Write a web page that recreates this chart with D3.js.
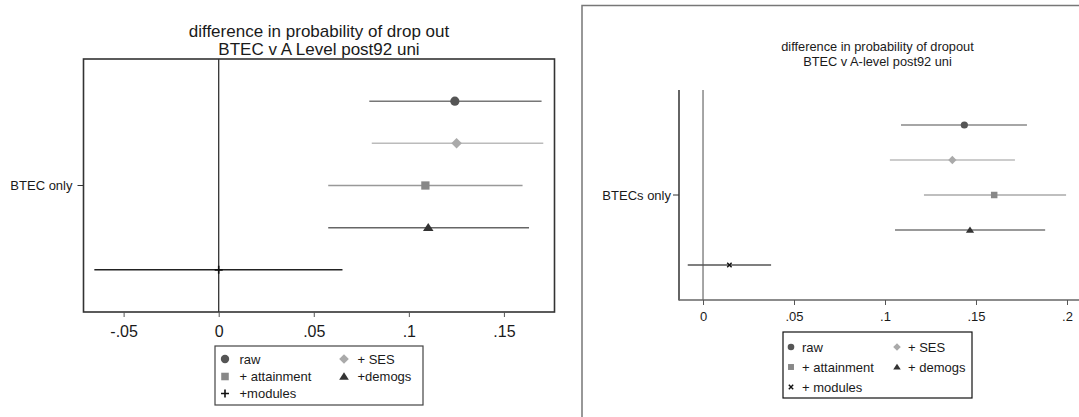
<!DOCTYPE html>
<html>
<head>
<meta charset="utf-8">
<script src="https://cdn.jsdelivr.net/npm/d3@7"></script>
<style>
  html, body { margin: 0; padding: 0; background: #fff; }
  svg { display: block; font-family: "Liberation Sans", Arial, sans-serif; }
</style>
</head>
<body>
<svg id="chart" width="1079" height="417"></svg>
<script>
// ---------- data ----------
const models = ["raw", "ses", "attainment", "demogs", "modules"];
const leftLegendLabels = ["raw", "+ SES", "+ attainment", "+demogs", "+modules"];
const rightLegendLabels = ["raw", "+ SES", "+ attainment", "+ demogs", "+ modules"];

const leftEst = [0.1242, 0.1251, 0.1087, 0.1102, 0.0];
const leftLo  = [0.0792, 0.0805, 0.0576, 0.0576, -0.0654];
const leftHi  = [0.1698, 0.1707, 0.1598, 0.1632, 0.0651];

const rightEst = [0.1436, 0.1370, 0.1600, 0.1467, 0.0145];
const rightLo  = [0.1088, 0.1027, 0.1214, 0.1055, -0.0084];
const rightHi  = [0.1780, 0.1714, 0.1995, 0.1880, 0.0374];

const leftTickValues = [-0.05, 0, 0.05, 0.1, 0.15];
const leftTickLabels = ["-.05", "0", ".05", ".1", ".15"];
const rightTickValues = [0, 0.05, 0.1, 0.15, 0.2];
const rightTickLabels = ["0", ".05", ".1", ".15", ".2"];

const leftTitle = ["difference in probability of drop out", "BTEC v A Level post92 uni"];
const rightTitle = ["difference in probability of dropout", "BTEC v A-level post92 uni"];
const leftCategory = "BTEC only";
const rightCategory = "BTECs only";

// ---------- styles ----------
const shapes = ["circle", "diamond", "square", "triangle", "cross"];

const svg = d3.select("#chart");

function symbolPath(shape, size) {
  const s = size;
  switch (shape) {
    case "circle": return d3.symbol().type(d3.symbolCircle).size(Math.PI * s * s)();
    case "diamond": return `M0,${-s*1.15}L${s*1.15},0L0,${s*1.15}L${-s*1.15},0Z`;
    case "square": return `M${-s*0.9},${-s*0.9}H${s*0.9}V${s*0.9}H${-s*0.9}Z`;
    case "triangle": return `M0,${-s*1.0}L${s*1.15},${s*0.75}L${-s*1.15},${s*0.75}Z`;
  }
}

function drawPanel(cfg) {
  const g = svg.append("g");
  const x = d3.scaleLinear().domain(cfg.xDomain).range([cfg.left, cfg.right]);
  const y = d3.scalePoint().domain(models).range([cfg.top, cfg.bottom]).padding(1);

  // title
  cfg.title.forEach((t, i) => {
    g.append("text")
      .attr("x", cfg.titleX).attr("y", cfg.titleY + i * cfg.titleLH)
      .attr("text-anchor", "middle")
      .attr("font-size", cfg.titleSize)
      .attr("fill", "#1a1a1a")
      .text(t);
  });

  // zero line
  g.append("line")
    .attr("x1", x(0)).attr("x2", x(0))
    .attr("y1", cfg.top).attr("y2", cfg.bottom)
    .attr("stroke", cfg.zeroColor).attr("stroke-width", cfg.zeroWidth);

  // CI lines & markers
  models.forEach((m, i) => {
    const yy = y(m);
    g.append("line")
      .attr("x1", x(cfg.lo[i])).attr("x2", x(cfg.hi[i]))
      .attr("y1", yy).attr("y2", yy)
      .attr("stroke", cfg.lineColors[i]).attr("stroke-width", cfg.ciWidth);
    const shape = shapes[i];
    const cx = x(cfg.est[i]);
    if (shape === "cross") {
      drawCross(g, cx, yy, cfg.crossType, cfg.crossSize, cfg.markColors[i]);
    } else {
      g.append("path")
        .attr("d", symbolPath(shape, cfg.markSize))
        .attr("transform", `translate(${cx},${yy})`)
        .attr("fill", cfg.markColors[i]);
    }
  });

  // frame / axes
  if (cfg.fullFrame) {
    g.append("rect")
      .attr("x", cfg.left).attr("y", cfg.top)
      .attr("width", cfg.right - cfg.left).attr("height", cfg.bottom - cfg.top)
      .attr("fill", "none").attr("stroke", "#333").attr("stroke-width", 1.6);
  } else {
    g.append("line")
      .attr("x1", cfg.left).attr("x2", cfg.left)
      .attr("y1", cfg.top).attr("y2", cfg.bottom + 0.5)
      .attr("stroke", "#111").attr("stroke-width", 1.3);
    g.append("line")
      .attr("x1", cfg.left).attr("x2", cfg.axisEnd)
      .attr("y1", cfg.bottom).attr("y2", cfg.bottom)
      .attr("stroke", "#666").attr("stroke-width", 1.5);
  }

  // x axis ticks via d3 axis
  const axis = d3.axisBottom(x)
    .tickValues(cfg.tickValues)
    .tickFormat((d, i) => cfg.tickLabels[i])
    .tickSize(cfg.tickLen)
    .tickPadding(cfg.tickPad);
  const ax = g.append("g").attr("transform", `translate(0,${cfg.bottom})`).call(axis);
  ax.select(".domain").remove();
  ax.selectAll(".tick line").attr("stroke", cfg.tickColor).attr("stroke-width", 1);
  ax.selectAll(".tick text")
    .attr("font-size", cfg.tickFont)
    .attr("font-family", "Liberation Sans, Arial, sans-serif")
    .attr("fill", "#1a1a1a");

  // y category
  const yc = y(models[2]);
  g.append("line")
    .attr("x1", cfg.left - 6).attr("x2", cfg.left)
    .attr("y1", yc).attr("y2", yc)
    .attr("stroke", "#333").attr("stroke-width", 1);
  g.append("text")
    .attr("x", cfg.left - cfg.catGap).attr("y", yc)
    .attr("dy", "0.35em")
    .attr("text-anchor", "end")
    .attr("font-size", cfg.catFont)
    .attr("fill", "#1a1a1a")
    .text(cfg.category);

  // legend
  const L = cfg.legend;
  g.append("rect")
    .attr("x", L.x).attr("y", L.y).attr("width", L.w).attr("height", L.h)
    .attr("fill", "#fff").attr("stroke", L.stroke).attr("stroke-width", 1.2);
  const pos = [[0, 0], [1, 0], [0, 1], [1, 1], [0, 2]];
  models.forEach((m, i) => {
    const [c, r] = pos[i];
    const sx = L.symX[c], tx = L.txtX[c], ry = L.rowY[r];
    const shape = shapes[i];
    if (shape === "cross") {
      drawCross(g, sx, ry, cfg.crossType, L.crossSize, cfg.markColors[i]);
    } else {
      g.append("path")
        .attr("d", symbolPath(shape, L.symSize))
        .attr("transform", `translate(${sx},${ry})`)
        .attr("fill", cfg.markColors[i]);
    }
    g.append("text")
      .attr("x", tx).attr("y", ry).attr("dy", "0.35em")
      .attr("font-size", L.font).attr("fill", "#1a1a1a")
      .text(cfg.legendLabels[i]);
  });
}

function drawCross(g, cx, cy, type, s, color) {
  if (type === "plus") {
    g.append("path").attr("d", `M${cx - s},${cy}H${cx + s}M${cx},${cy - s}V${cy + s}`)
      .attr("stroke", color).attr("stroke-width", 1.6);
  } else {
    g.append("path").attr("d", `M${cx - s},${cy - s}L${cx + s},${cy + s}M${cx - s},${cy + s}L${cx + s},${cy - s}`)
      .attr("stroke", color).attr("stroke-width", 1.4);
  }
}

// ---------- left panel ----------
drawPanel({
  xDomain: [-0.0711, 0.1766], left: 83.5, right: 554.5, top: 59, bottom: 312,
  title: leftTitle, titleX: 319, titleY: 37, titleLH: 17.5, titleSize: 17,
  zeroColor: "#333", zeroWidth: 1.3,
  est: leftEst, lo: leftLo, hi: leftHi,
  lineColors: ["#777", "#bbb", "#999", "#666", "#222"],
  markColors: ["#555", "#aaa", "#888", "#333", "#111"],
  ciWidth: 1.5, markSize: 4.6, crossType: "plus", crossSize: 4,
  fullFrame: true,
  tickValues: leftTickValues, tickLabels: leftTickLabels,
  tickLen: 5, tickPad: 9, tickColor: "#555", tickFont: 16,
  category: leftCategory, catFont: 13, catGap: 11,
  legendLabels: leftLegendLabels,
  legend: { x: 215, y: 346, w: 208, h: 59, stroke: "#444",
    symX: [225, 344], txtX: [239.5, 357.5], rowY: [359, 376.5, 393.5],
    symSize: 4.2, crossSize: 4, font: 13 }
});

// ---------- right panel ----------
svg.append("rect")
  .attr("x", 582).attr("y", 5.5).attr("width", 520).attr("height", 440)
  .attr("fill", "none").attr("stroke", "#777").attr("stroke-width", 1.5);

drawPanel({
  xDomain: [-0.0132, 0.2066], left: 679, right: 1079, axisEnd: 1079, top: 90, bottom: 300,
  title: rightTitle, titleX: 877.5, titleY: 51, titleLH: 15, titleSize: 12.8,
  zeroColor: "#888", zeroWidth: 1.5,
  est: rightEst, lo: rightLo, hi: rightHi,
  lineColors: ["#888", "#bbb", "#aaa", "#777", "#555"],
  markColors: ["#555", "#aaa", "#888", "#333", "#111"],
  ciWidth: 1.5, markSize: 3.6, crossType: "x", crossSize: 2.2,
  fullFrame: false,
  tickValues: rightTickValues, tickLabels: rightTickLabels,
  tickLen: 5, tickPad: 7, tickColor: "#555", tickFont: 13,
  category: rightCategory, catFont: 13, catGap: 8,
  legendLabels: rightLegendLabels,
  legend: { x: 783, y: 332, w: 189, h: 66, stroke: "#111",
    symX: [791, 897], txtX: [802, 908], rowY: [347, 367, 387],
    symSize: 3.3, crossSize: 2.2, font: 13 }
});
</script>
</body>
</html>
